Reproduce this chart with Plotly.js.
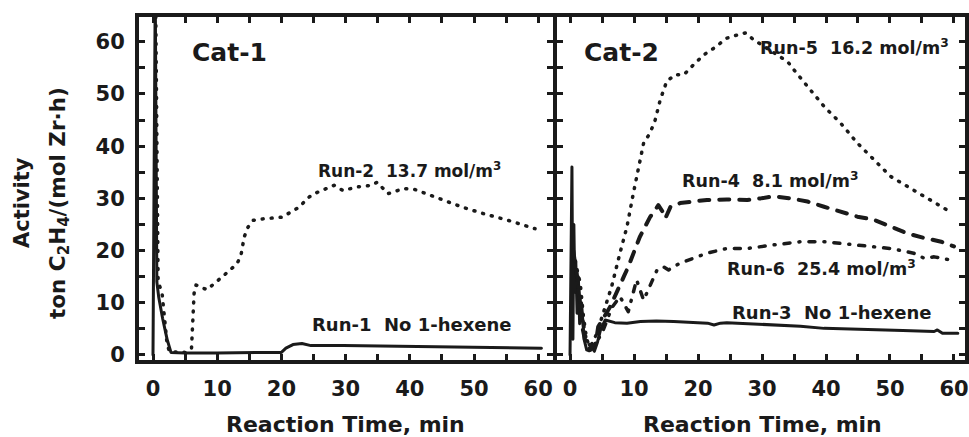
<!DOCTYPE html>
<html>
<head>
<meta charset="utf-8">
<script src="https://cdn.plot.ly/plotly-3.0.1.min.js"></script>
<style>
html,body{margin:0;padding:0;background:#fff;}
.js-line{stroke-linecap:round;stroke-linejoin:round;}
</style>
</head>
<body>
<div id="chart" style="width:969px;height:437px;"></div>
<script>
// ---- Cat-1 ----
var run1X = [0, 0.35, 0.6, 0.9, 1.5, 2.2, 2.8, 5, 10, 15, 20, 20.7, 21.8, 23.2, 24.6, 29.6, 35, 40.2, 45, 50, 54.2, 60.5];
var run1Y = [0, 70, 14, 11, 7, 3, 0.5, 0.4, 0.4, 0.4, 0.5, 1.3, 2.0, 2.2, 1.8, 1.8, 1.7, 1.65, 1.6, 1.5, 1.3, 1.3];

var run2X = [0.4, 0.8, 1.4, 1.8, 2.2, 2.6, 4, 5, 6.0, 6.2, 6.4, 6.7, 8.4, 10.9, 13.1, 13.7, 14.2, 14.8, 15.6, 17.3, 20.1, 22.9, 24, 25.1, 28.2, 29.6, 31.8, 34.1, 34.9, 36.6, 39.1, 40.8, 43.9, 48, 51.4, 55.3, 59.5];
var run2Y = [70, 14, 12, 7, 2, 0.6, 0.5, 0.5, 1.3, 6, 11.8, 13.4, 12.5, 15.1, 17.5, 19.1, 22.6, 24.5, 25.8, 26.1, 26.4, 28.4, 30, 30.9, 32.5, 31.5, 32.2, 32.5, 33.1, 30.9, 31.9, 31.7, 30.3, 28.4, 27.1, 25.8, 24.2];

// ---- Cat-2 ----
var run3X = [0, 0.3, 0.45, 0.6, 0.75, 0.9, 1.1, 1.3, 1.5, 1.8, 2.2, 2.6, 3.0, 3.4, 3.8, 4.3, 4.8, 5.5, 7, 8.9, 11, 13.5, 16.2, 19, 21.5, 22.5, 23.5, 24.5, 28, 31.9, 36, 39.7, 44, 47.5, 52, 56.9, 57.4, 58.2, 60.6];
var run3Y = [0, 36, 3, 25, 12, 18, 8, 15, 6, 10, 3, 1.0, 0.8, 1.5, 0.7, 2.5, 5, 6.7, 6.2, 6.1, 6.4, 6.5, 6.4, 6.2, 6.1, 5.75, 6.1, 6.2, 6.0, 5.75, 5.5, 5.1, 5.0, 4.8, 4.7, 4.5, 4.8, 4.15, 4.15];

var run4X = [0.5, 1.2, 1.8, 2.5, 3.2, 4.0, 4.4, 6.25, 8.4, 9.1, 10.9, 12.5, 13.8, 14.6, 14.9, 15.7, 17.2, 18.8, 21.4, 24.5, 27.7, 29.8, 31.9, 34.5, 37.1, 39.7, 42.3, 44.9, 47.5, 50.1, 52.7, 55.4, 58, 60];
var run4Y = [20, 14, 6, 2, 1.0, 2.2, 5.4, 9.2, 15, 16.9, 22.6, 26.4, 28.7, 27.2, 26.2, 28.4, 29.1, 29.4, 29.7, 29.8, 29.7, 30, 30.4, 30, 29.4, 28.4, 27.5, 26.5, 25.9, 24.6, 23.3, 22.4, 21.7, 20.8];

var run5X = [0.8, 1.3, 1.6, 2.1, 2.6, 3.1, 3.6, 4.2, 5.2, 6.5, 7.8, 8.9, 9.9, 11, 11.5, 12.5, 13.3, 14.1, 15.1, 16.4, 17.8, 19.3, 20.9, 22.5, 24.5, 26.1, 27.4, 28.7, 31.9, 34, 35, 37.1, 39.7, 42.3, 44.9, 47.5, 50.1, 52.7, 55.4, 59.3];
var run5Y = [18, 15, 13.7, 7.3, 3, 1.6, 2.5, 4.2, 8, 13.1, 19.5, 24.6, 31, 38, 40.6, 42.5, 45, 48.9, 52.4, 53.7, 53.7, 55.6, 57.5, 58.8, 60.7, 61.3, 61.7, 60.4, 57.8, 56.2, 54.6, 51.4, 47.6, 44.4, 40.6, 37.4, 34.2, 32.3, 30.4, 27.5];

var run6X = [1.0, 1.8, 2.6, 3.4, 4.2, 5.2, 6.5, 7.8, 9.1, 10.4, 11.5, 12.5, 13.6, 14.6, 15.4, 17.2, 19.3, 21.4, 24.5, 27.7, 31.9, 36, 39.7, 42.3, 44.9, 50.1, 53.7, 55.4, 56.9, 59.5];
var run6Y = [16, 8, 2.5, 1.5, 2.5, 4.8, 9, 11.2, 8.3, 14.4, 10.5, 13.1, 16.3, 16.9, 16.3, 17.6, 18.5, 19.5, 20.4, 20.4, 21.1, 21.7, 21.7, 21.4, 21.1, 20.4, 19.5, 18.5, 18.8, 18.2];

var xTickVals = [0, 5, 10, 15, 20, 25, 30, 35, 40, 45, 50, 55, 60];
var xTickText = ['0', '', '10', '', '20', '', '30', '', '40', '', '50', '', '60'];
var yTickVals = [0, 5, 10, 15, 20, 25, 30, 35, 40, 45, 50, 55, 60];
var yTickText = ['0', '', '10', '', '20', '', '30', '', '40', '', '50', '', '60'];

var FONT = 'DejaVu Sans, Arial, sans-serif';
var K = '#1a1a1a';

function line(x, y, xa, ya, dash, w) {
  return {x: x, y: y, xaxis: xa, yaxis: ya, type: 'scatter', mode: 'lines',
          line: {color: K, width: w, dash: dash}, hoverinfo: 'skip', showlegend: false};
}

var data = [
  line(run1X, run1Y, 'x', 'y', 'solid', 3),
  line(run2X, run2Y, 'x', 'y', '1px,8px', 3.5),
  line(run3X, run3Y, 'x2', 'y2', 'solid', 3),
  line(run5X, run5Y, 'x2', 'y2', '1px,8px', 3.5),
  line(run4X, run4Y, 'x2', 'y2', '10px,10px', 4),
  line(run6X, run6Y, 'x2', 'y2', '6px,9px,1px,9px', 3.5)
];

function xax(domain, range, anchor) {
  return {domain: domain, range: range, anchor: anchor,
    showline: true, linewidth: 4, linecolor: K, mirror: 'ticks',
    ticks: 'inside', ticklen: 6, tickwidth: 3, tickcolor: K,
    tickvals: xTickVals, ticktext: xTickText, ticklabelstandoff: 7,
    tickfont: {family: FONT, size: 21, color: K, weight: 'bold'},
    showgrid: false, zeroline: false, fixedrange: true};
}
function yax(anchor, labels) {
  return {domain: [0, 1], range: [-0.96, 64.75], anchor: anchor,
    showline: true, linewidth: 4, linecolor: K, mirror: 'ticks',
    ticks: 'inside', ticklen: 6, tickwidth: 3, tickcolor: K,
    tickvals: yTickVals, ticktext: yTickText, showticklabels: labels, ticklabelstandoff: 6,
    tickfont: {family: FONT, size: 21, color: K, weight: 'bold'},
    showgrid: false, zeroline: false, fixedrange: true};
}

function ann(text, x, y, xref, yref, size, extra) {
  var a = {text: text, x: x, y: y, xref: xref, yref: yref, showarrow: false,
    xanchor: 'left', yanchor: 'middle',
    font: {family: FONT, size: size, color: K, weight: 'bold'}};
  for (var k in extra) a[k] = extra[k];
  return a;
}

var SP = '\u00A0\u00A0';
var annotations = [
  ann('Cat-1', 5.8, 58, 'x', 'y', 25),
  ann('Run-2' + SP + '13.7 mol/m<sup>3</sup>', 25.4, 35.4, 'x', 'y', 17),
  ann('Run-1' + SP + 'No 1-hexene', 24.5, 5.75, 'x', 'y', 18),
  ann('Cat-2', 1.9, 58, 'x2', 'y2', 25),
  ann('Run-5' + SP + '16.2 mol/m<sup>3</sup>', 29.4, 59, 'x2', 'y2', 17.5),
  ann('Run-4' + SP + '8.1 mol/m<sup>3</sup>', 17.2, 33.5, 'x2', 'y2', 17.5),
  ann('Run-6' + SP + '25.4 mol/m<sup>3</sup>', 24.2, 16.7, 'x2', 'y2', 17.5),
  ann('Run-3' + SP + 'No 1-hexene', 25, 8.2, 'x2', 'y2', 18),
  ann('Reaction Time, min', 30, -0.1866, 'x', 'paper', 22, {xanchor: 'center'}),
  ann('Reaction Time, min', 30, -0.1866, 'x2', 'paper', 22, {xanchor: 'center'}),
  ann('Activity', -0.1416, 0.4577, 'paper', 'paper', 21, {xanchor: 'center', textangle: -90}),
  ann('ton C<sub>2</sub>H<sub>4</sub>/(mol Zr\u00B7h)', -0.0969, 0.4577, 'paper', 'paper', 21.5, {xanchor: 'center', textangle: -90})
];

var layout = {
  width: 969, height: 437,
  margin: {l: 139, r: 4, t: 17, b: 77, pad: 0},
  paper_bgcolor: '#ffffff', plot_bgcolor: '#ffffff',
  showlegend: false,
  xaxis: xax([0, 0.5012], [-2.18, 62.3], 'y'),
  xaxis2: xax([0.5061, 1], [-2.03, 61.72], 'y2'),
  yaxis: yax('x', true),
  yaxis2: yax('x2', false),
  annotations: annotations
};

Plotly.newPlot('chart', data, layout, {displayModeBar: false, staticPlot: true});
</script>
</body>
</html>
